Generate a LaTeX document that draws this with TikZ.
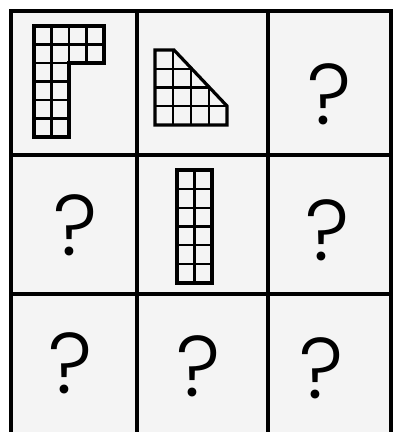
\documentclass[tikz,border=0pt]{standalone}
\usepackage{fontspec}
\newfontfamily\qfont{Poppins Light}
\tikzset{
  frameline/.style={line width=3.6pt, line cap=rect},
  outline/.style={line width=3.2pt, line join=miter},
  gridline/.style={line width=2.2pt},
  qmark/.style={inner sep=0pt, font=\qfont\fontsize{86}{86}\selectfont}
}
\begin{document}
\begin{tikzpicture}[x=1pt,y=-1pt]
\useasboundingbox (0,0) rectangle (392,432);
\fill[white] (0,0) rectangle (392,432);
\fill[gray!9] (11,11) rectangle (391,434);
% frame
\draw[frameline] (11,11) rectangle (391,434);
\draw[frameline] (137,11) -- (137,434);
\draw[frameline] (268,11) -- (268,434);
\draw[frameline] (11,155) -- (391,155);
\draw[frameline] (11,294) -- (391,294);
% shape 1: L-shape
\draw[gridline] (51.5,26) -- (51.5,137);
\draw[gridline] (69,26) -- (69,63);
\draw[gridline] (86.5,26) -- (86.5,63);
\draw[gridline] (34,44.5) -- (104,44.5);
\draw[gridline] (34,63) -- (69,63);
\foreach \y in {81.5,100,118.5} \draw[gridline] (34,\y) -- (69,\y);
\draw[outline] (34,26) -- (104,26) -- (104,63) -- (69,63) -- (69,137) -- (34,137) -- cycle;
% shape 2: cut square
\begin{scope}
\clip (155,50) -- (174,50) -- (227,106) -- (227,125) -- (155,125) -- cycle;
\foreach \x in {173,191,209} \draw[gridline] (\x,50) -- (\x,125);
\foreach \y in {68.75,87.5,106.25} \draw[gridline] (155,\y) -- (227,\y);
\end{scope}
\draw[outline] (155,50) -- (174,50) -- (227,106) -- (227,125) -- (155,125) -- cycle;
% shape 3: column
\draw[gridline] (194.5,170) -- (194.5,283);
\foreach \i in {1,...,5} \draw[gridline] (177,170+\i*18.83) -- (212,170+\i*18.83);
\draw[outline] (177,170) rectangle (212,283);
% question marks
\node[qmark] (q13) at (330,94) {?};
\node[qmark] (q21) at (76,225) {?};
\node[qmark] (q23) at (328,230) {?};
\node[qmark] (q31) at (71,363) {?};
\node[qmark] (q32) at (199,366) {?};
\node[qmark] (q33) at (322,368) {?};
\end{tikzpicture}
\end{document}
